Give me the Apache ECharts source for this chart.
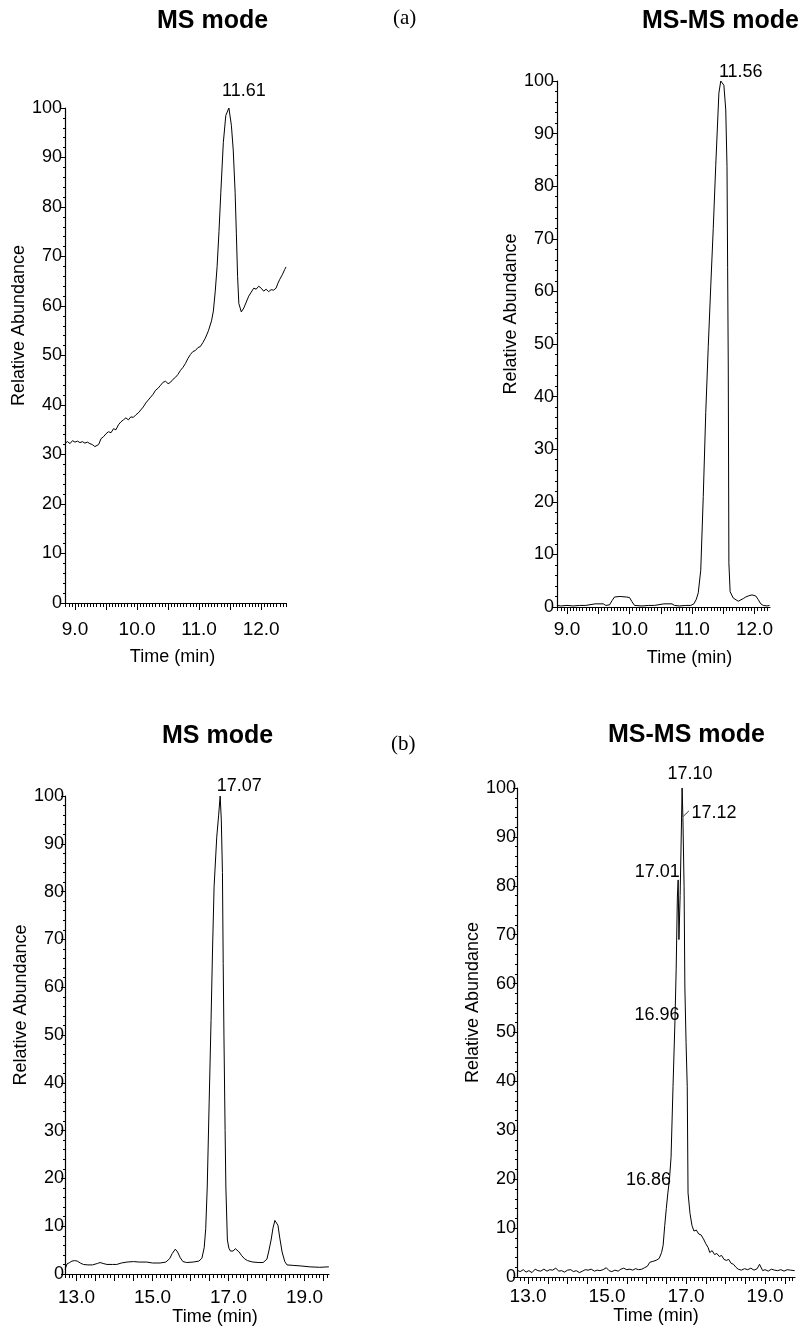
<!DOCTYPE html>
<html>
<head>
<meta charset="utf-8">
<script src="https://cdn.jsdelivr.net/npm/echarts@6/dist/echarts.min.js"></script>
<style>
html,body{margin:0;padding:0;background:#fff;}
#chart{width:807px;height:1328px;}
</style>
</head>
<body>
<div id="chart"></div>
<script>
// ---------- DATA ----------
// (a) MS mode
const aMsTime = [8.84,8.88,8.92,8.96,9.00,9.04,9.08,9.12,9.16,9.20,9.24,9.28,9.32,9.35,9.38,9.42,9.46,9.50,9.54,9.58,9.62,9.66,9.70,9.74,9.78,9.82,9.86,9.90,9.94,9.98,10.02,10.06,10.10,10.14,10.18,10.22,10.26,10.30,10.34,10.38,10.42,10.46,10.50,10.54,10.58,10.62,10.66,10.70,10.74,10.78,10.82,10.86,10.90,10.94,10.98,11.02,11.06,11.10,11.15,11.20,11.23,11.26,11.29,11.32,11.35,11.39,11.43,11.48,11.52,11.55,11.58,11.60,11.62,11.64,11.68,11.72,11.76,11.80,11.84,11.88,11.92,11.96,12.00,12.04,12.08,12.12,12.16,12.20,12.24,12.27,12.30,12.34,12.38,12.40];
const aMsAbund = [32.3,32.6,32.2,32.8,32.5,32.7,32.4,32.6,32.3,32.5,32.2,32.0,31.6,31.3,32.0,33.2,33.6,34.2,34.6,34.4,35.2,35.0,36.0,36.6,37.0,37.4,37.0,37.6,37.5,38.0,38.4,39.0,39.6,40.4,41.0,41.6,42.2,43.0,43.4,44.0,44.6,44.8,44.3,44.6,45.2,45.6,46.2,47.0,47.6,48.4,49.4,50.2,50.8,51.0,51.6,51.8,52.6,53.5,55.0,57.0,59.0,63.0,68.0,75.0,83.0,93.0,98.5,100.0,96.5,91.5,83.0,74.7,66.0,60.5,58.8,59.6,60.8,62.0,62.8,63.6,63.4,64.0,63.6,63.0,63.4,62.9,63.3,63.2,63.6,64.6,65.4,66.3,67.4,67.9];
// (a) MS-MS mode
const aMsmsTime = [8.84,8.90,9.00,9.10,9.20,9.30,9.33,9.45,9.58,9.62,9.68,9.72,9.76,9.85,9.95,10.00,10.04,10.08,10.20,10.30,10.40,10.42,10.55,10.68,10.72,10.80,10.90,10.98,11.03,11.07,11.10,11.14,11.18,11.22,11.26,11.30,11.34,11.38,11.43,11.46,11.51,11.54,11.56,11.57,11.58,11.59,11.61,11.66,11.74,11.82,11.86,11.90,11.96,12.02,12.06,12.10,12.14,12.20,12.24];
const aMsmsAbund = [0.3,0.2,0.3,0.2,0.3,0.3,0.6,0.6,0.6,0.3,0.4,1.2,1.9,2.0,1.9,1.8,1.0,0.3,0.2,0.3,0.3,0.6,0.6,0.6,0.3,0.2,0.3,0.3,0.6,1.5,2.7,7.0,21.0,37.0,49.5,61.0,72.0,84.0,97.7,100.0,99.2,94.5,83.7,64.6,46.0,8.4,2.9,1.7,1.1,1.6,1.9,2.1,2.3,2.1,1.4,0.6,0.3,0.2,0.3];
// (b) MS mode
const bMsTime = [12.70,12.75,12.82,12.88,12.95,13.02,13.10,13.18,13.30,13.42,13.55,13.62,13.70,13.80,13.95,14.06,14.18,14.33,14.50,14.65,14.85,15.00,15.20,15.35,15.45,15.52,15.60,15.66,15.73,15.80,15.90,16.07,16.22,16.30,16.36,16.40,16.44,16.49,16.54,16.58,16.62,16.69,16.74,16.78,16.81,16.84,16.86,16.88,16.91,16.93,16.97,17.01,17.05,17.12,17.18,17.22,17.28,17.35,17.42,17.50,17.64,17.80,17.91,18.01,18.06,18.12,18.17,18.22,18.26,18.30,18.35,18.41,18.48,18.54,18.70,18.88,19.14,19.40,19.64];
const bMsAbund = [1.0,2.1,2.4,2.7,2.8,2.7,2.3,2.0,1.9,1.9,2.2,2.4,2.2,2.0,2.0,2.0,2.3,2.5,2.6,2.5,2.5,2.3,2.3,2.5,3.2,4.3,5.2,4.6,3.4,2.6,2.4,2.5,2.7,3.3,5.5,9.5,18.2,35.8,53.0,68.0,81.0,91.4,96.0,100.0,95.0,84.0,65.0,49.6,30.0,18.2,7.1,5.4,4.8,4.8,5.3,5.2,4.6,3.8,3.2,2.8,2.5,2.4,2.4,3.1,4.8,7.1,9.6,11.2,11.5,10.2,7.5,4.6,2.6,1.9,1.8,1.7,1.5,1.4,1.5];
// (b) MS-MS mode
const bMsmsTime = [12.72,12.80,12.88,12.95,13.02,13.10,13.18,13.25,13.32,13.40,13.48,13.55,13.62,13.70,13.78,13.85,13.92,14.00,14.08,14.15,14.22,14.30,14.38,14.45,14.52,14.60,14.68,14.75,14.82,14.90,14.98,15.05,15.12,15.20,15.28,15.35,15.42,15.50,15.58,15.65,15.72,15.80,15.88,15.95,16.02,16.08,16.16,16.24,16.32,16.38,16.42,16.46,16.50,16.54,16.58,16.62,16.67,16.72,16.75,16.78,16.80,16.82,16.85,16.87,16.90,16.92,16.95,16.97,17.00,17.03,17.05,17.10,17.15,17.20,17.26,17.32,17.38,17.44,17.50,17.56,17.60,17.66,17.72,17.78,17.84,17.90,17.96,18.02,18.08,18.14,18.20,18.26,18.32,18.40,18.48,18.56,18.64,18.72,18.80,18.86,18.90,18.94,19.00,19.08,19.16,19.24,19.32,19.40,19.48,19.56,19.64,19.75];
const bMsmsAbund = [1.4,1.1,1.5,1.0,1.3,0.9,1.6,1.3,1.2,1.6,1.2,1.5,1.4,1.8,1.2,1.3,1.0,1.4,1.5,1.1,1.3,0.9,1.2,1.5,1.4,1.6,1.2,1.4,1.3,1.5,1.9,1.3,1.1,1.4,1.2,1.6,1.8,1.5,1.6,1.4,1.7,1.5,1.6,1.9,2.2,3.0,3.2,3.4,3.8,5.0,6.5,10.5,14.0,17.2,20.0,24.5,39.0,52.6,63.0,77.7,81.2,69.0,78.0,86.7,100.0,94.0,79.8,59.3,48.0,38.9,17.2,13.0,10.5,9.4,9.6,8.8,8.6,7.8,6.8,6.0,5.0,5.4,4.6,4.8,4.2,4.4,3.6,3.4,3.6,2.8,2.6,2.0,1.6,1.4,1.7,1.5,1.8,1.4,1.7,2.6,2.2,1.3,1.5,1.2,1.6,1.4,1.3,1.5,1.2,1.5,1.4,1.3];

// tick labels
const yTickLabels = [0,10,20,30,40,50,60,70,80,90,100];
const xLabelsA = [9, 10, 11, 12];
const xLabelsB = [13, 15, 17, 19];

// peak annotations [time, abundance, text]
const annA1 = [[11.48, 100, '11.61']];
const annA2 = [[11.46, 100, '11.56']];
const annB1 = [[16.78, 100, '17.07']];
const annB2 = [[16.90, 100, '17.10'], [16.92, 94, '17.12'], [16.80, 81.2, '17.01'], [16.72, 52.6, '16.96'], [16.58, 20, '16.86']];

// ---------- BUILD ----------
const FONT = "'Liberation Sans', Arial, Helvetica, sans-serif";
function zip(t, v){ return t.map((x,i)=>[x, v[i]]); }
function steps(a, b, s){ const out=[]; const n=Math.round((b-a)/s); for(let i=0;i<=n;i++) out.push(+(a+i*s).toFixed(3)); return out; }

const grids = [
  {left:65, top:108, width:221, height:495},
  {left:557, top:81, width:213, height:526},
  {left:65, top:796, width:264, height:478},
  {left:517, top:788, width:278, height:489}
];
const xr = [
  {min:8.839, max:12.40, labels:xLabelsA, minor:steps(8.85,12.40,0.05), major:steps(9.0,12.0,0.5), lm:17, ng:45, shift:-6},
  {min:8.84, max:12.248, labels:xLabelsA, minor:steps(8.85,12.20,0.05), major:steps(9.0,12.0,0.5), lm:13, ng:42, shift:52},
  {min:12.697, max:19.644, labels:xLabelsB, minor:steps(12.7,19.6,0.1), major:steps(13.0,19.5,0.5), lm:14, ng:32, shift:36},
  {min:12.72, max:19.758, labels:xLabelsB, minor:steps(12.8,19.7,0.1), major:steps(13.0,19.5,0.5), lm:10, ng:29, shift:0}
];
const yCfg = [
  {ng:35, lm:3},
  {ng:30, lm:3},
  {ng:30, lm:1},
  {ng:23, lm:1}
];

const xAxis = [], yAxis = [], series = [];
const datasets = [zip(aMsTime,aMsAbund), zip(aMsmsTime,aMsmsAbund), zip(bMsTime,bMsAbund), zip(bMsmsTime,bMsmsAbund)];
const anns = [annA1, annA2, annB1, annB2];
const annOffsets = [
  [[15,-17]],
  [[20,-9]],
  [[19,-10]],
  [[8,-14],[31,-4],[-21,-8],[-18,-5],[-21,1]]
];
// short leader from the 17.12 label to its peak
const leaderB2 = [[[16.93, 94.2], [17.07, 95.3]]];

xr.forEach((r, i) => {
  xAxis.push({
    type:'value', gridIndex:i, position:'bottom', min:r.min, max:r.max,
    name:'Time (min)', nameLocation:'middle', nameGap:r.ng,
    nameTextStyle:{fontFamily:FONT, fontSize:18, color:'#000', padding:r.shift>=0?[0,0,0,r.shift]:[0,-r.shift,0,0]},
    axisLine:{show:true, onZero:false, lineStyle:{color:'#000', width:1.2}},
    axisTick:{show:true, customValues:r.minor, length:4, lineStyle:{color:'#000', width:1}},
    axisLabel:{show:true, customValues:r.labels, margin:r.lm, fontFamily:FONT, fontSize:19, color:'#000',
      formatter:(v)=>Number(v).toFixed(1)},
    splitLine:{show:false}
  });
  xAxis.push({
    type:'value', gridIndex:i, position:'bottom', min:r.min, max:r.max,
    axisLine:{show:false},
    axisTick:{show:true, customValues:r.major, length:7, lineStyle:{color:'#000', width:1}},
    axisLabel:{show:false},
    splitLine:{show:false}
  });
  yAxis.push({
    type:'value', gridIndex:i, min:0, max:100, interval:10,
    name:'Relative Abundance', nameLocation:'middle', nameGap:yCfg[i].ng,
    nameTextStyle:{fontFamily:FONT, fontSize:18, color:'#000', padding:[0,0,0,60]},
    axisLine:{show:true, lineStyle:{color:'#000', width:1.2}},
    axisTick:{show:true, length:4, lineStyle:{color:'#000'}},
    minorTick:{show:true, splitNumber:5, length:2, lineStyle:{color:'#000'}},
    axisLabel:{margin:yCfg[i].lm, fontFamily:FONT, fontSize:18, color:'#000',
      customValues:yTickLabels},
    splitLine:{show:false}, minorSplitLine:{show:false}
  });
  const s = {
    type:'line', xAxisIndex:2*i, yAxisIndex:i, data:datasets[i],
    showSymbol:false, symbol:'none', smooth:false,
    lineStyle:{color:'#000', width:1}, animation:false,
    markPoint:{
      symbol:'circle', symbolSize:1, silent:true, animation:false,
      itemStyle:{color:'rgba(0,0,0,0)'},
      data: anns[i].map((a, k) => ({
        coord:[a[0], a[1]], value:a[2],
        label:{show:true, position:'inside', offset:annOffsets[i][k], formatter:a[2],
          fontFamily:FONT, fontSize:18, color:'#000'}
      }))
    }
  };
  if (i === 3) {
    s.markLine = {
      silent:true, animation:false, symbol:['none','none'],
      lineStyle:{color:'#000', width:0.8, type:'solid'}, label:{show:false},
      data: leaderB2.map(seg => [{coord:seg[0]}, {coord:seg[1]}])
    };
  }
  series.push(s);
});

const titles = [
  {text:'MS mode', left:157, top:9},
  {text:'MS-MS mode', left:642, top:9},
  {text:'MS mode', left:162, top:724},
  {text:'MS-MS mode', left:608, top:723}
].map(t => Object.assign(t, {padding:0, textStyle:{fontFamily:FONT, fontSize:25, fontWeight:'bold', color:'#000'}}));
titles.push({text:'(a)', left:393, top:8, padding:0, textStyle:{fontFamily:"'Liberation Serif', 'Times New Roman', serif", fontSize:21, fontWeight:'normal', color:'#000'}});
titles.push({text:'(b)', left:391, top:734, padding:0, textStyle:{fontFamily:"'Liberation Serif', 'Times New Roman', serif", fontSize:21, fontWeight:'normal', color:'#000'}});

const chart = echarts.init(document.getElementById('chart'), null, {renderer:'canvas'});
chart.setOption({
  backgroundColor:'#fff',
  animation:false,
  title:titles,
  grid:grids.map(g => Object.assign({containLabel:false}, g)),
  xAxis:xAxis,
  yAxis:yAxis,
  series:series
});
</script>
</body>
</html>
